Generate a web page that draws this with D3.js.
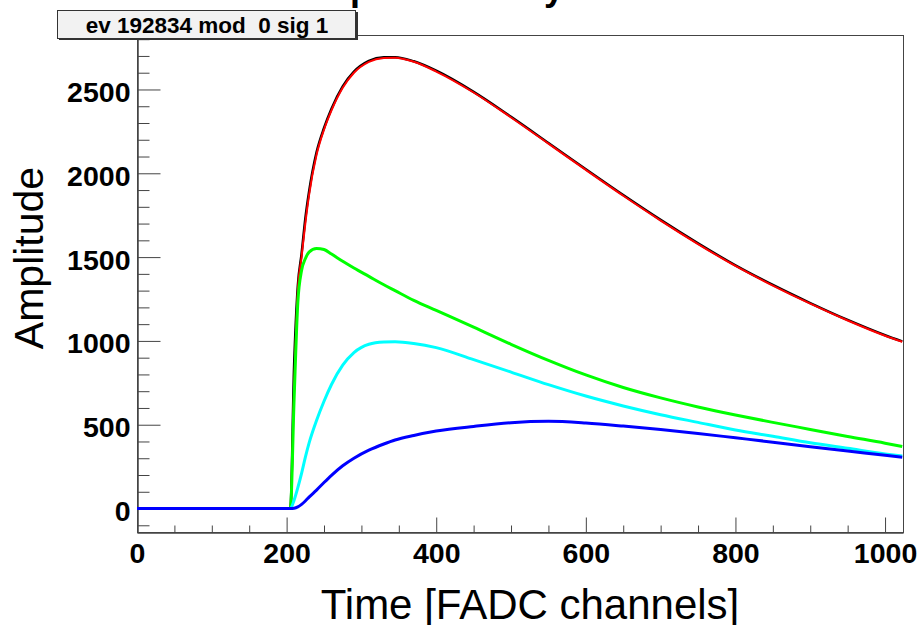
<!DOCTYPE html>
<html>
<head>
<meta charset="utf-8">
<script src="https://cdn.jsdelivr.net/npm/d3@7"></script>
<style>
  body { margin: 0; background: #fff; }
  svg { display: block; font-family: "Liberation Sans", Arial, sans-serif; }
</style>
</head>
<body>
<div id="chart"></div>
<script>
// Data
const time = [0, 200, 205, 210, 215, 220, 225, 230, 240, 250, 260, 275, 290, 310, 330, 345, 370,
  400, 450, 500, 550, 600, 650, 700, 750, 800, 850, 900, 950, 1000, 1023]
const measured = [0, 0, 0, 850, 1330, 1520, 1730, 1890, 2125, 2270, 2385, 2518, 2606, 2670, 2692, 2693, 2668,
  2612, 2486, 2337, 2181, 2024, 1870, 1722, 1582, 1451, 1334, 1226, 1125, 1034, 997]
const fitTotal = [0, 0, 0, 700, 1300, 1500, 1700, 1870, 2110, 2260, 2375, 2510, 2600, 2665, 2688, 2690, 2665,
  2607, 2482, 2333, 2177, 2020, 1866, 1718, 1578, 1447, 1330, 1222, 1122, 1031, 995]
const fastComp = [0, 0, 0, 650, 1230, 1420, 1490, 1530, 1552, 1545, 1518, 1475, 1435, 1385, 1335, 1300, 1242,
  1182, 1082, 980, 884, 797, 722, 660, 606, 558, 514, 472, 430, 390, 370]
const midComp = [0, 0, 0, 50, 125, 210, 305, 390, 525, 640, 740, 855, 930, 980, 993, 995, 985,
  960, 888, 814, 739, 671, 612, 560, 514, 469, 431, 392, 359, 326, 313]
const slowComp = [0, 0, 0, 2, 10, 25, 45, 68, 110, 155, 198, 255, 300, 348, 385, 409, 436,
  462, 490, 512, 520, 510, 492, 471, 448, 422, 396, 369, 343, 318, 306]

const xTicks = [0, 200, 400, 600, 800, 1000]
const yTicks = [0, 500, 1000, 1500, 2000, 2500]

const histName = 'ev 192834 mod  0 sig 1'
const xTitle = 'Time [FADC channels]'
const yTitle = 'Amplitude'
const plotTitle = 'Amplitude fit by models'

// Dimensions
const dimensions = {
  width: 924,
  height: 625,
  left: 137,
  right: 903,
  top: 35,
  bottom: 532,
}

const svg = d3.select('#chart')
  .append('svg')
  .attr('width', dimensions.width)
  .attr('height', dimensions.height)

// Scales
const xScale = d3.scaleLinear()
  .domain([0, 1024])
  .range([dimensions.left, dimensions.right])

const yScale = d3.scaleLinear()
  .domain([-140, 2825])
  .range([dimensions.bottom, dimensions.top])

// Title (only its descenders show above the frame)
svg.append('text')
  .attr('x', 292)
  .attr('y', 0)
  .style('font-size', '36px')
  .style('font-weight', 'bold')
  .text(plotTitle)

// Frame
svg.append('rect')
  .attr('x', dimensions.left + 0.5)
  .attr('y', dimensions.top + 0.5)
  .attr('width', dimensions.right - dimensions.left)
  .attr('height', dimensions.bottom - dimensions.top)
  .attr('fill', 'none')
  .attr('stroke', '#444')

// Axes
const xMinor = d3.range(0, 1025, 50).filter(d => !xTicks.includes(d))
const yMinor = d3.range(-100, 2801, 100).filter(d => !yTicks.includes(d))

const xAxisG = svg.append('g')
  .attr('transform', `translate(0, ${dimensions.bottom + 0.5})`)
xAxisG.append('g')
  .call(d3.axisBottom(xScale).tickValues(xMinor).tickSize(-7).tickFormat('').tickSizeOuter(0))
xAxisG.append('g')
  .call(d3.axisBottom(xScale).tickValues(xTicks).tickSize(-15).tickPadding(10)
    .tickFormat(d3.format('d')).tickSizeOuter(0))

const yAxisG = svg.append('g')
  .attr('transform', `translate(${dimensions.left + 0.5}, 0)`)
yAxisG.append('g')
  .call(d3.axisLeft(yScale).tickValues(yMinor).tickSize(-12).tickFormat('').tickSizeOuter(0))
yAxisG.append('g')
  .call(d3.axisLeft(yScale).tickValues(yTicks).tickSize(-23).tickPadding(7)
    .tickFormat(d3.format('d')).tickSizeOuter(0))

svg.selectAll('.domain').attr('stroke', '#444')
svg.selectAll('.tick line').attr('stroke', '#444')
svg.selectAll('.tick text')
  .attr('fill', '#000')
  .style('font-size', '28.5px')
  .style('font-weight', 'bold')
  .style('font-family', '"Liberation Sans", Arial, sans-serif')
yAxisG.selectAll('.tick text').attr('dy', '0.42em')

// Axis titles
svg.append('text')
  .attr('x', 530)
  .attr('y', 619)
  .attr('text-anchor', 'middle')
  .style('font-size', '42px')
  .text(xTitle)

svg.append('text')
  .attr('transform', 'translate(43, 258) rotate(-90)')
  .attr('text-anchor', 'middle')
  .style('font-size', '41px')
  .text(yTitle)

// Curves
const series = [
  { values: measured, color: '#000', width: 2.5 },
  { values: fitTotal, color: '#ff0000', width: 2 },
  { values: fastComp, color: '#00ff00', width: 3 },
  { values: midComp, color: '#00ffff', width: 3 },
  { values: slowComp, color: '#0000ff', width: 3 },
]

const lineGen = d3.line()
  .x(d => xScale(d[0]))
  .y(d => yScale(d[1]))
  .curve(d3.curveMonotoneX)

svg.append('g')
  .selectAll('path')
  .data(series)
  .join('path')
  .attr('d', s => lineGen(time.map((t, i) => [t, s.values[i]])))
  .attr('fill', 'none')
  .attr('stroke', s => s.color)
  .attr('stroke-width', s => s.width)
  .attr('stroke-linejoin', 'round')

// Histogram name box
const box = svg.append('g')
box.append('rect')
  .attr('x', 59)
  .attr('y', 12)
  .attr('width', 299)
  .attr('height', 28)
  .attr('fill', '#333')
box.append('rect')
  .attr('x', 57.5)
  .attr('y', 10.5)
  .attr('width', 298)
  .attr('height', 28)
  .attr('fill', '#f2f2f2')
  .attr('stroke', '#333')
box.append('text')
  .attr('x', 207)
  .attr('y', 33)
  .attr('text-anchor', 'middle')
  .style('font-size', '22.5px')
  .style('font-weight', 'bold')
  .style('white-space', 'pre')
  .text(histName)
</script>
</body>
</html>
